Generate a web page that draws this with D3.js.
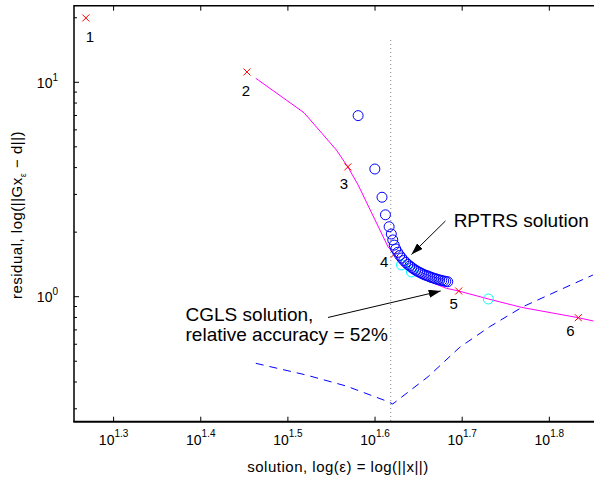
<!DOCTYPE html>
<html lang="en">
<head>
<meta charset="utf-8">
<title>L-curve</title>
<script src="https://cdn.jsdelivr.net/npm/d3@7/dist/d3.min.js"></script>
<style>
  body { margin: 0; background: #fff; }
  text { font-family: "Liberation Sans", Arial, Helvetica, sans-serif; fill: #000; }
</style>
</head>
<body>
<script>
var w = 594;
var h = 480;
var margin = {top: 5.7, right: 0, bottom: 58.3, left: 74};

// axis limits (the figure is cropped on the right)
var xDomain = [17.97, 71.0];
var yDomain = [0.2612, 22.76];
var xTickExp = [1.3, 1.4, 1.5, 1.6, 1.7, 1.8];
var yTickExp = [0, 1];
var yMinor = [0.3, 0.4, 0.5, 0.6, 0.7, 0.8, 0.9, 2, 3, 4, 5, 6, 7, 8, 9, 20];

// L-curve (magenta)
var curveX = [29.05, 33.0, 35.95, 37.05, 38.07, 41.2, 41.88, 42.49, 44.0, 46.0, 48.08, 49.66, 53.7, 58.6, 68.12, 70.9];
var curveY = [10.44, 7.21, 4.83, 4.03, 3.32, 1.71, 1.577, 1.456, 1.286, 1.175, 1.094, 1.063, 0.976, 0.892, 0.798, 0.770];

// numbered points on the curve
var cornerNames = ["1", "2", "3", "4", "5", "6"];
var cornerX = [18.54, 28.38, 37.05, 41.88, 49.66, 68.12];
var cornerY = [19.95, 11.17, 4.03, 1.577, 1.063, 0.798];

// relative error (blue dashed)
var errX = [29.05, 33.21, 36.9, 41.2, 41.72, 45.8, 49.8, 53.9, 58.85, 64.85, 70.8];
var errY = [0.489, 0.431, 0.383, 0.324, 0.316, 0.4235, 0.581, 0.7245, 0.898, 1.075, 1.262];

// RPTRS iterates (blue circles)
var rptrsX = [38.07, 39.79, 40.55, 40.92, 41.32, 41.56, 41.72, 41.88, 42.05, 42.27, 42.49, 42.72, 42.95, 43.18,
              43.41, 43.64, 43.87, 44.10, 44.34, 44.57, 44.81, 45.05, 45.29, 45.53, 45.77, 46.00, 46.24, 46.49,
              46.73, 46.98, 47.23, 47.48, 47.73, 47.99, 48.24];
var rptrsY = [6.99, 3.94, 2.91, 2.41, 2.12, 1.96, 1.84, 1.74, 1.67, 1.61, 1.557, 1.515, 1.475, 1.444,
              1.413, 1.391, 1.368, 1.346, 1.328, 1.311, 1.297, 1.283, 1.269, 1.258, 1.249, 1.238, 1.229, 1.220,
              1.212, 1.204, 1.196, 1.190, 1.184, 1.179, 1.174];

// CGLS iterates (cyan circles)
var cglsX = [42.69, 43.83, 53.70];
var cglsY = [1.406, 1.304, 0.976];

// optimal solution norm (dotted line)
var optX = 41.5;
var optTop = 15.75;

var xScale = d3.scaleLog().domain(xDomain).range([margin.left, w - margin.right]);
var yScale = d3.scaleLog().domain(yDomain).range([h - margin.bottom, margin.top]);

var svg = d3.select("body").append("svg")
  .attr("width", w)
  .attr("height", h);

var defs = svg.append("defs");
defs.append("marker")
  .attr("id", "arrow")
  .attr("viewBox", "0 0 12 8")
  .attr("refX", 12).attr("refY", 4)
  .attr("markerWidth", 12).attr("markerHeight", 8)
  .attr("markerUnits", "userSpaceOnUse")
  .attr("orient", "auto")
  .append("path").attr("d", "M0,0 L12,4 L0,8 Z").attr("fill", "#000");

// dotted line
svg.append("line")
  .attr("x1", xScale(optX)).attr("x2", xScale(optX))
  .attr("y1", yScale(optTop)).attr("y2", yScale(yDomain[0]))
  .attr("stroke", "#888").attr("stroke-width", 1)
  .attr("stroke-dasharray", "1,3");

// dashed error curve
var line = d3.line().x(function(d) { return xScale(d[0]); }).y(function(d) { return yScale(d[1]); });
svg.append("path")
  .datum(d3.zip(errX, errY))
  .attr("d", line)
  .attr("fill", "none").attr("stroke", "#0000ff").attr("stroke-width", 1)
  .attr("stroke-dasharray", "8,6");

// L-curve
svg.append("path")
  .datum(d3.zip(curveX, curveY))
  .attr("d", line)
  .attr("fill", "none").attr("stroke", "#ff00ff").attr("stroke-width", 1);

// cyan circles
svg.selectAll(".cgls")
  .data(d3.zip(cglsX, cglsY))
  .enter().append("circle")
  .attr("class", "cgls")
  .attr("cx", function(d) { return xScale(d[0]); })
  .attr("cy", function(d) { return yScale(d[1]); })
  .attr("r", 5)
  .attr("fill", "none").attr("stroke", "#00ffff").attr("stroke-width", 1);

// red crosses
var crosses = svg.selectAll(".corner")
  .data(d3.zip(cornerX, cornerY, cornerNames))
  .enter().append("g")
  .attr("class", "corner")
  .attr("transform", function(d) { return "translate(" + xScale(d[0]) + "," + yScale(d[1]) + ")"; });
crosses.append("path")
  .attr("d", "M-3.5,-3.5L3.5,3.5M-3.5,3.5L3.5,-3.5")
  .attr("stroke", "#ff0000").attr("stroke-width", 1);

var labelShift = [[4, 24], [-1, 24], [-4, 22], [-10, 13], [-5, 18], [-8, 18]];
crosses.append("text")
  .attr("x", function(d, i) { return labelShift[i][0]; })
  .attr("y", function(d, i) { return labelShift[i][1]; })
  .attr("text-anchor", "middle")
  .attr("font-size", "15px")
  .text(function(d) { return d[2]; });

// blue circles
svg.selectAll(".rptrs")
  .data(d3.zip(rptrsX, rptrsY))
  .enter().append("circle")
  .attr("class", "rptrs")
  .attr("cx", function(d) { return xScale(d[0]); })
  .attr("cy", function(d) { return yScale(d[1]); })
  .attr("r", 5)
  .attr("fill", "none").attr("stroke", "#0000ff").attr("stroke-width", 1);

// annotations
svg.append("line")
  .attr("x1", xScale(47.95)).attr("y1", yScale(2.255))
  .attr("x2", xScale(43.83)).attr("y2", yScale(1.573))
  .attr("stroke", "#000").attr("stroke-width", 1)
  .attr("marker-end", "url(#arrow)");
svg.append("text")
  .attr("x", xScale(49.0)).attr("y", yScale(2.121))
  .attr("font-size", "19px")
  .text("RPTRS solution");

svg.append("line")
  .attr("x1", xScale(35.16)).attr("y1", yScale(0.80))
  .attr("x2", xScale(47.35)).attr("y2", yScale(1.063))
  .attr("stroke", "#000").attr("stroke-width", 1)
  .attr("marker-end", "url(#arrow)");
var cgText = svg.append("text")
  .attr("x", xScale(24.13)).attr("y", yScale(0.773))
  .attr("font-size", "19px");
cgText.append("tspan").text("CGLS solution,");
cgText.append("tspan").attr("x", xScale(24.13)).attr("dy", 20).text("relative accuracy = 52%");

// frame
var x0 = margin.left, x1 = w - margin.right + 4, y0 = margin.top, y1 = h - margin.bottom;
svg.append("path")
  .attr("d", "M" + x1 + "," + y0 + "H" + x0 + "V" + y1)
  .attr("fill", "none").attr("stroke", "#000").attr("stroke-width", 1.5);
svg.append("line")
  .attr("x1", x0 - 0.75).attr("x2", x1).attr("y1", y1).attr("y2", y1)
  .attr("stroke", "#000").attr("stroke-width", 2);

// x ticks, bottom and top, pointing inward
xTickExp.forEach(function(e) {
  var x = xScale(Math.pow(10, e));
  svg.append("line").attr("x1", x).attr("x2", x).attr("y1", y1).attr("y2", y1 - 5)
    .attr("stroke", "#000").attr("stroke-width", 1);
  svg.append("line").attr("x1", x).attr("x2", x).attr("y1", y0).attr("y2", y0 + 5)
    .attr("stroke", "#000").attr("stroke-width", 1);
  var t = svg.append("text").attr("x", x).attr("y", y1 + 23.5)
    .attr("text-anchor", "middle").attr("font-size", "14px");
  t.append("tspan").text("10");
  t.append("tspan").attr("font-size", "10px").attr("dy", -8.5).text(e.toFixed(1));
});

// y ticks
yTickExp.forEach(function(e) {
  var y = yScale(Math.pow(10, e));
  svg.append("line").attr("x1", x0).attr("x2", x0 + 5).attr("y1", y).attr("y2", y)
    .attr("stroke", "#000").attr("stroke-width", 1);
  var t = svg.append("text").attr("x", x0 - 16).attr("y", y + 5.5)
    .attr("text-anchor", "end").attr("font-size", "14px");
  t.append("tspan").text("10");
  t.append("tspan").attr("font-size", "10px").attr("dy", -7).text(e);
});
yMinor.forEach(function(v) {
  var y = yScale(v);
  svg.append("line").attr("x1", x0).attr("x2", x0 + 3).attr("y1", y).attr("y2", y)
    .attr("stroke", "#000").attr("stroke-width", 1);
});

// axis titles
var xt = svg.append("text")
  .attr("x", 338).attr("y", 472)
  .attr("text-anchor", "middle").attr("font-size", "15px")
  .attr("letter-spacing", "0.5px");
xt.text("solution, log(\u03b5) = log(||x||)");

var yt = svg.append("text")
  .attr("transform", "translate(22,215) rotate(-90)")
  .attr("text-anchor", "middle").attr("font-size", "15px")
  .attr("letter-spacing", "0.5px");
yt.append("tspan").text("residual, log(||Gx");
yt.append("tspan").attr("font-size", "9px").attr("dy", 4).text("\u03b5");
yt.append("tspan").attr("dy", -4).text(" \u2212 d||)");
</script>
</body>
</html>
